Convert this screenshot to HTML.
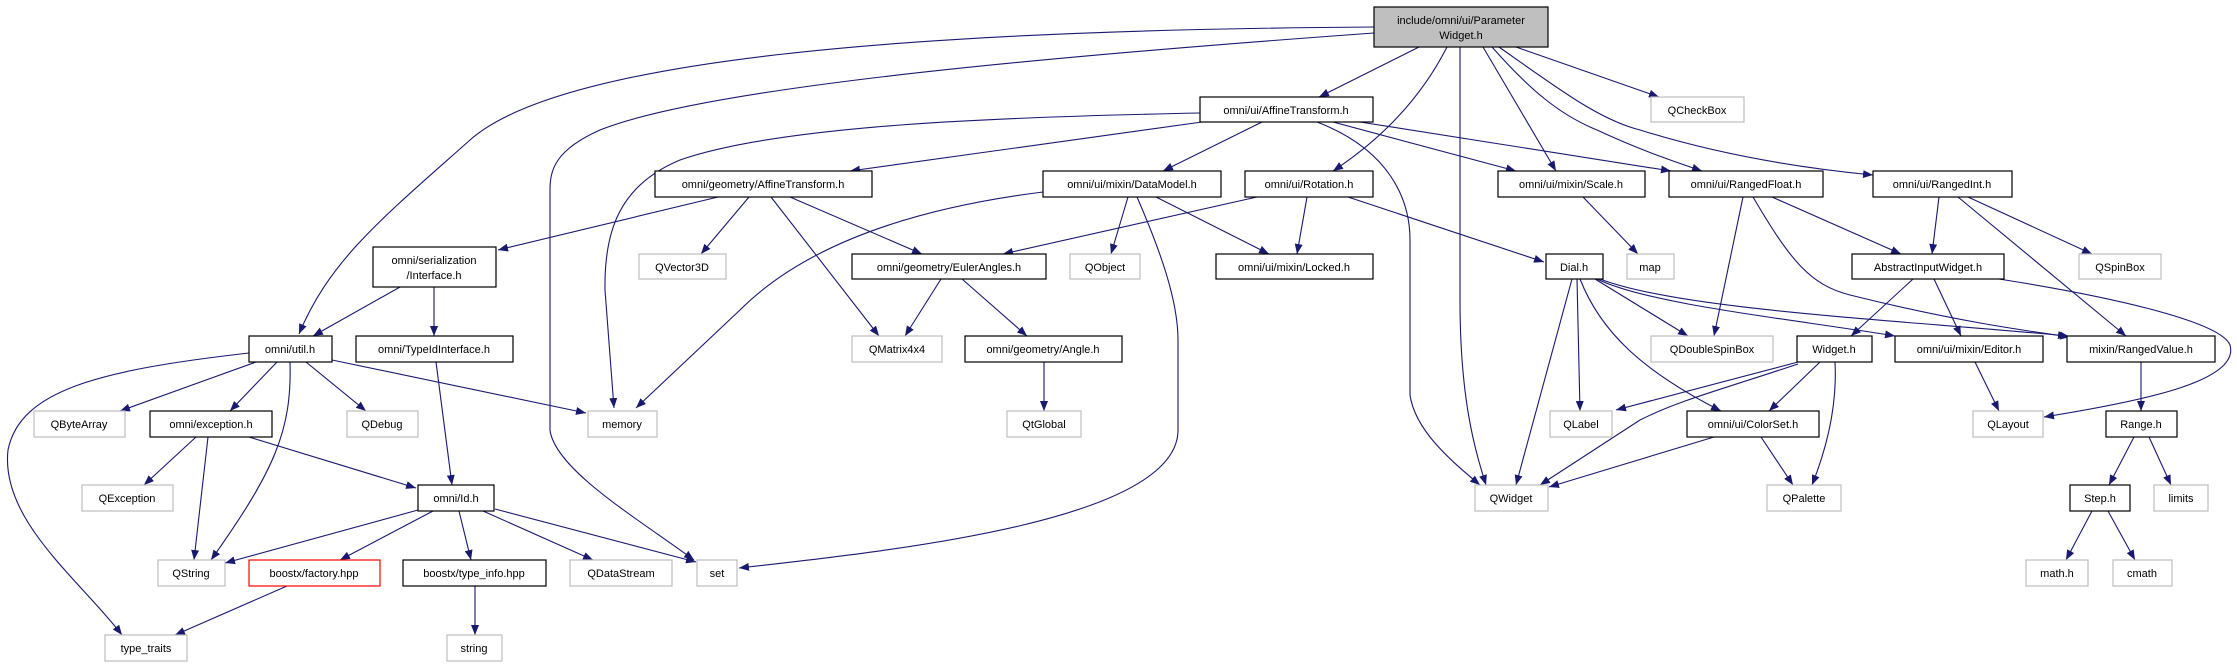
<!DOCTYPE html>
<html><head><meta charset="utf-8"><style>
html,body{margin:0;padding:0;background:#fff;}
svg{display:block}
text{font-family:"Liberation Sans",sans-serif;font-size:11px;fill:#000;text-anchor:middle}
.e{fill:none;stroke:#191970;stroke-width:1.1}
.n{fill:#fff;stroke:#000;stroke-width:1.2}
.g{fill:#fff;stroke:#bfbfbf;stroke-width:1.2}
.r{fill:#fff;stroke:#ff0000;stroke-width:1.2}
</style></head><body>
<svg width="2237" height="667" viewBox="0 0 2237 667" xmlns="http://www.w3.org/2000/svg">
<defs><marker id="a" viewBox="0 0 10 8" refX="10" refY="4" markerWidth="10" markerHeight="8" markerUnits="userSpaceOnUse" orient="auto"><path d="M0,0 L10,4 L0,8 z" fill="#191970"/></marker></defs>
<g marker-end="url(#a)">
<path class="e" d="M1374,27 C900,30 560,60 470,140 S330,260 299,334"/>
<path class="e" d="M1374,33 C1000,60 700,90 600,130 C555,150 550,170 550,190 L550,430 C555,470 640,520 694,560"/>
<path class="e" d="M1200,113 C1000,117 780,125 680,160 C620,185 604,230 605,290 L614,408"/>
<path class="e" d="M1419,47 L1319,97"/>
<path class="e" d="M1447,47 C1420,100 1380,140 1333,171"/>
<path class="e" d="M1460,47 L1460,300 C1460,400 1475,450 1486,485"/>
<path class="e" d="M1483,47 L1556,171"/>
<path class="e" d="M1492,47 C1530,90 1560,115 1597,130 C1640,150 1670,160 1702,171"/>
<path class="e" d="M1499,47 C1560,90 1600,120 1640,130 C1720,155 1800,168 1873,175"/>
<path class="e" d="M1516,47 L1659,97"/>
<path class="e" d="M1202,122 L850,171"/>
<path class="e" d="M1262,122 L1163,171"/>
<path class="e" d="M1317,122 C1390,150 1410,200 1410,240 L1410,395 C1415,430 1450,460 1480,485"/>
<path class="e" d="M1333,122 L1516,171"/>
<path class="e" d="M1360,122 L1671,171"/>
<path class="e" d="M718,197 L498,250"/>
<path class="e" d="M749,197 L701,254"/>
<path class="e" d="M790,197 L922,254"/>
<path class="e" d="M771,197 L879,336"/>
<path class="e" d="M1043,192 C900,210 800,250 740,310 L636,408"/>
<path class="e" d="M1128,197 L1111,254"/>
<path class="e" d="M1156,197 L1269,254"/>
<path class="e" d="M1137,197 C1160,250 1178,300 1178,340 L1178,430 C1178,520 900,550 739,568"/>
<path class="e" d="M1257,197 L1003,254"/>
<path class="e" d="M1307,197 L1297,254"/>
<path class="e" d="M1348,197 L1544,262"/>
<path class="e" d="M941,279 L905,336"/>
<path class="e" d="M962,279 L1027,336"/>
<path class="e" d="M1044,362 L1044,411"/>
<path class="e" d="M400,287 L313,336"/>
<path class="e" d="M434,287 L434,336"/>
<path class="e" d="M249,353 C100,370 20,390 8,450 C0,520 80,580 122,635"/>
<path class="e" d="M256,362 L120,411"/>
<path class="e" d="M277,362 L230,411"/>
<path class="e" d="M290,362 C292,430 275,470 211,560"/>
<path class="e" d="M306,362 L366,411"/>
<path class="e" d="M332,360 L586,413"/>
<path class="e" d="M436,362 L452,485"/>
<path class="e" d="M196,437 L144,485"/>
<path class="e" d="M208,437 L194,560"/>
<path class="e" d="M249,437 L416,488"/>
<path class="e" d="M418,510 L225,563"/>
<path class="e" d="M433,511 L340,560"/>
<path class="e" d="M459,511 L471,560"/>
<path class="e" d="M483,511 L593,560"/>
<path class="e" d="M495,509 L696,562"/>
<path class="e" d="M287,586 L175,635"/>
<path class="e" d="M475,586 L475,635"/>
<path class="e" d="M1583,197 L1638,254"/>
<path class="e" d="M1743,197 L1714,336"/>
<path class="e" d="M1753,197 C1790,260 1810,285 1850,295 C1950,320 2020,330 2070,337"/>
<path class="e" d="M1772,197 L1901,254"/>
<path class="e" d="M1939,197 L1932,254"/>
<path class="e" d="M1958,197 L2126,336"/>
<path class="e" d="M1968,197 L2092,254"/>
<path class="e" d="M1913,279 L1851,336"/>
<path class="e" d="M1934,279 L1961,336"/>
<path class="e" d="M1999,279 C2100,295 2220,320 2230,345 C2240,380 2150,400 2044,417"/>
<path class="e" d="M1595,279 L1688,336"/>
<path class="e" d="M1572,279 L1516,485"/>
<path class="e" d="M1577,279 L1580,411"/>
<path class="e" d="M1580,279 C1600,330 1640,370 1721,411"/>
<path class="e" d="M1600,279 C1680,310 1900,320 2068,336"/>
<path class="e" d="M1597,279 C1650,305 1800,320 1895,336"/>
<path class="e" d="M1798,362 L1616,410"/>
<path class="e" d="M1798,364 C1720,390 1680,400 1640,420 L1540,485"/>
<path class="e" d="M1820,362 L1769,411"/>
<path class="e" d="M1835,362 C1837,400 1830,440 1812,485"/>
<path class="e" d="M1975,362 L1999,411"/>
<path class="e" d="M2141,362 L2141,411"/>
<path class="e" d="M1714,437 L1549,487"/>
<path class="e" d="M1761,437 L1793,485"/>
<path class="e" d="M2134,437 L2109,485"/>
<path class="e" d="M2149,437 L2171,485"/>
<path class="e" d="M2092,511 L2066,560"/>
<path class="e" d="M2108,511 L2135,560"/>
</g>
<!-- nodes -->
<rect x="1374" y="7" width="174" height="40" fill="#bfbfbf" stroke="#000" stroke-width="1.2"/>
<text x="1461" y="24">include/omni/ui/Parameter</text><text x="1461" y="39">Widget.h</text>
<rect class="n" x="1200" y="97" width="173" height="25"/><text x="1286" y="114">omni/ui/AffineTransform.h</text>
<rect class="g" x="1651" y="97" width="93" height="25"/><text x="1697" y="114">QCheckBox</text>
<rect class="n" x="655" y="171" width="217" height="26"/><text x="763" y="188">omni/geometry/AffineTransform.h</text>
<rect class="n" x="1043" y="171" width="178" height="26"/><text x="1132" y="188">omni/ui/mixin/DataModel.h</text>
<rect class="n" x="1245" y="171" width="128" height="26"/><text x="1309" y="188">omni/ui/Rotation.h</text>
<rect class="n" x="1498" y="171" width="147" height="26"/><text x="1571" y="188">omni/ui/mixin/Scale.h</text>
<rect class="n" x="1669" y="171" width="154" height="26"/><text x="1746" y="188">omni/ui/RangedFloat.h</text>
<rect class="n" x="1873" y="171" width="139" height="26"/><text x="1942" y="188">omni/ui/RangedInt.h</text>
<rect class="n" x="373" y="247" width="123" height="40"/><text x="434" y="264">omni/serialization</text><text x="434" y="279">/Interface.h</text>
<rect class="g" x="639" y="254" width="87" height="25"/><text x="682" y="271">QVector3D</text>
<rect class="n" x="852" y="254" width="194" height="25"/><text x="949" y="271">omni/geometry/EulerAngles.h</text>
<rect class="g" x="1070" y="254" width="70" height="25"/><text x="1105" y="271">QObject</text>
<rect class="n" x="1216" y="254" width="157" height="25"/><text x="1294" y="271">omni/ui/mixin/Locked.h</text>
<rect class="n" x="1546" y="254" width="57" height="25"/><text x="1574" y="271">Dial.h</text>
<rect class="g" x="1627" y="254" width="47" height="25"/><text x="1650" y="271">map</text>
<rect class="n" x="1852" y="254" width="152" height="25"/><text x="1928" y="271">AbstractInputWidget.h</text>
<rect class="g" x="2079" y="254" width="82" height="25"/><text x="2120" y="271">QSpinBox</text>
<rect class="n" x="249" y="336" width="83" height="26"/><text x="290" y="353">omni/util.h</text>
<rect class="n" x="356" y="336" width="157" height="26"/><text x="434" y="353">omni/TypeIdInterface.h</text>
<rect class="g" x="852" y="336" width="90" height="26"/><text x="897" y="353">QMatrix4x4</text>
<rect class="n" x="965" y="336" width="157" height="26"/><text x="1043" y="353">omni/geometry/Angle.h</text>
<rect class="g" x="1651" y="336" width="122" height="26"/><text x="1712" y="353">QDoubleSpinBox</text>
<rect class="n" x="1797" y="336" width="75" height="26"/><text x="1834" y="353">Widget.h</text>
<rect class="n" x="1895" y="336" width="148" height="26"/><text x="1969" y="353">omni/ui/mixin/Editor.h</text>
<rect class="n" x="2067" y="336" width="148" height="26"/><text x="2141" y="353">mixin/RangedValue.h</text>
<rect class="g" x="34" y="411" width="91" height="26"/><text x="79" y="428">QByteArray</text>
<rect class="n" x="150" y="411" width="122" height="26"/><text x="211" y="428">omni/exception.h</text>
<rect class="g" x="347" y="411" width="71" height="26"/><text x="382" y="428">QDebug</text>
<rect class="g" x="588" y="411" width="69" height="26"/><text x="622" y="428">memory</text>
<rect class="g" x="1007" y="411" width="74" height="26"/><text x="1044" y="428">QtGlobal</text>
<rect class="g" x="1550" y="411" width="62" height="26"/><text x="1581" y="428">QLabel</text>
<rect class="n" x="1687" y="411" width="132" height="26"/><text x="1753" y="428">omni/ui/ColorSet.h</text>
<rect class="g" x="1973" y="411" width="70" height="26"/><text x="2008" y="428">QLayout</text>
<rect class="n" x="2106" y="411" width="71" height="26"/><text x="2141" y="428">Range.h</text>
<rect class="g" x="82" y="485" width="91" height="26"/><text x="127" y="502">QException</text>
<rect class="n" x="418" y="485" width="76" height="26"/><text x="456" y="502">omni/Id.h</text>
<rect class="g" x="1475" y="485" width="73" height="26"/><text x="1511" y="502">QWidget</text>
<rect class="g" x="1767" y="485" width="74" height="26"/><text x="1804" y="502">QPalette</text>
<rect class="n" x="2070" y="485" width="60" height="26"/><text x="2100" y="502">Step.h</text>
<rect class="g" x="2154" y="485" width="54" height="26"/><text x="2181" y="502">limits</text>
<rect class="g" x="158" y="560" width="67" height="26"/><text x="191" y="577">QString</text>
<rect class="r" x="249" y="560" width="131" height="26"/><text x="314" y="577">boostx/factory.hpp</text>
<rect class="n" x="403" y="560" width="143" height="26"/><text x="474" y="577">boostx/type_info.hpp</text>
<rect class="g" x="570" y="560" width="102" height="26"/><text x="621" y="577">QDataStream</text>
<rect class="g" x="697" y="560" width="40" height="26"/><text x="717" y="577">set</text>
<rect class="g" x="2026" y="560" width="62" height="26"/><text x="2057" y="577">math.h</text>
<rect class="g" x="2113" y="560" width="59" height="26"/><text x="2142" y="577">cmath</text>
<rect class="g" x="105" y="635" width="82" height="26"/><text x="146" y="652">type_traits</text>
<rect class="g" x="447" y="635" width="55" height="26"/><text x="474" y="652">string</text>
</svg>
</body></html>
